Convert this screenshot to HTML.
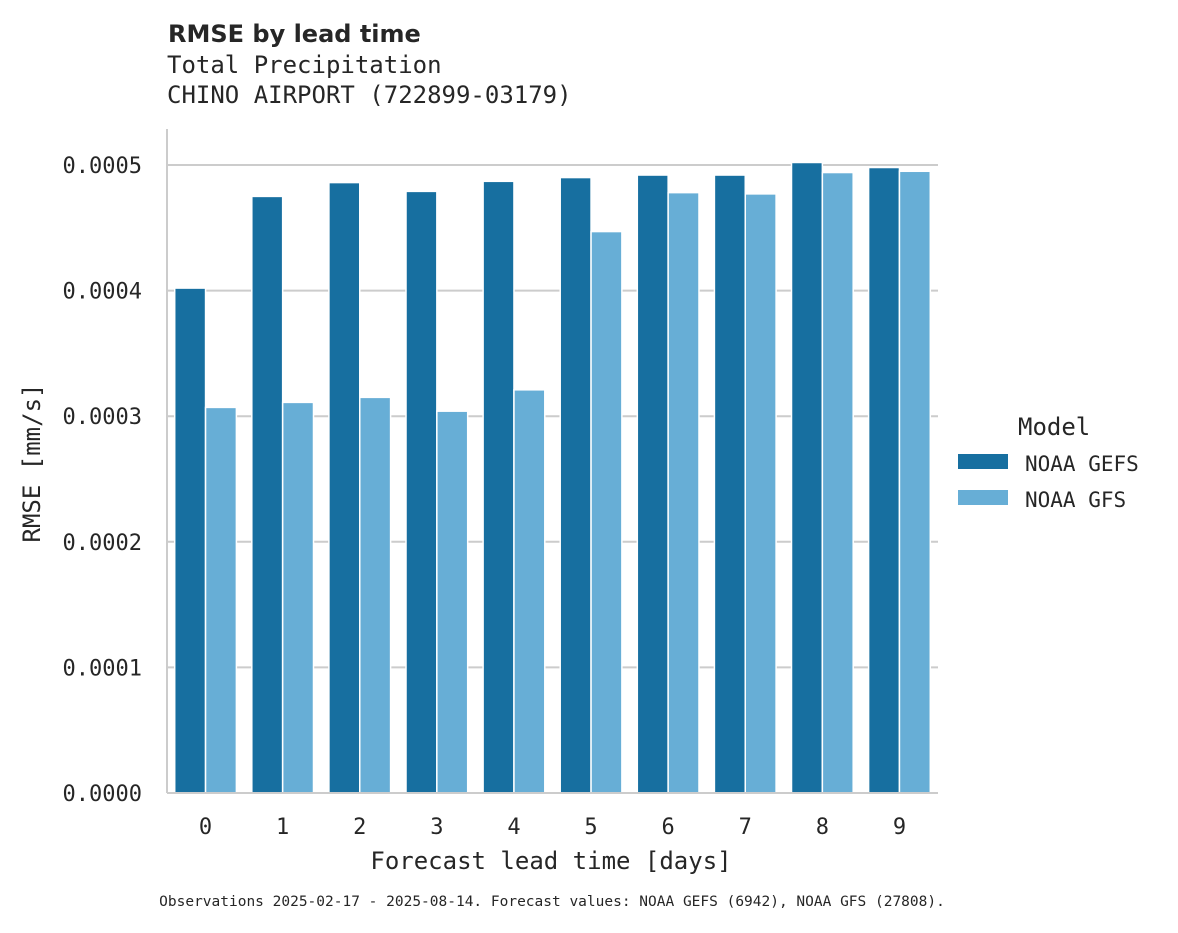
<!DOCTYPE html>
<html><head><meta charset="utf-8"><style>
body{margin:0;background:#fff;}
svg text{font-family:"DejaVu Sans Mono","Liberation Mono",monospace;fill:#262626;}
</style></head><body>
<svg width="1178" height="928" viewBox="0 0 1178 928">
<text x="168" y="42" style="font-family:'DejaVu Sans','Liberation Sans',sans-serif;font-weight:bold;font-size:24px">RMSE by lead time</text>
<text x="167" y="73" font-size="24">Total Precipitation</text>
<text x="167" y="103" font-size="24">CHINO AIRPORT (722899-03179)</text>
<g id="grid"></g>
<g id="bars"></g>
<line x1="167" y1="129" x2="167" y2="793" stroke="#ccc" stroke-width="2"/>
<line x1="167" y1="793" x2="938" y2="793" stroke="#ccc" stroke-width="2"/>
<g id="xt"></g>
<text x="551" y="869" font-size="24" text-anchor="middle">Forecast lead time [days]</text>
<text transform="translate(40,463) rotate(-90)" font-size="24" text-anchor="middle">RMSE [mm/s]</text>
<g>
<text x="1018" y="435" font-size="24">Model</text>
<rect x="958" y="454" width="50" height="15" fill="#176fa0"/>
<text x="1025" y="471" font-size="21">NOAA GEFS</text>
<rect x="958" y="490" width="50" height="15" fill="#67aed6"/>
<text x="1025" y="507" font-size="21">NOAA GFS</text>
</g>
<text x="552" y="906" font-size="14.5" text-anchor="middle">Observations 2025-02-17 - 2025-08-14. Forecast values: NOAA GEFS (6942), NOAA GFS (27808).</text>
</svg>
<script>
const categories=["0","1","2","3","4","5","6","7","8","9"];
const gefs=[0.000402,0.000475,0.000486,0.000479,0.000487,0.000490,0.000492,0.000492,0.000502,0.000498];
const gfs=[0.000307,0.000311,0.000315,0.000304,0.000321,0.000447,0.000478,0.000477,0.000494,0.000495];
const yTicks=[0,0.0001,0.0002,0.0003,0.0004,0.0005];
const yTickLabels=["0.0000","0.0001","0.0002","0.0003","0.0004","0.0005"];
const NS="http://www.w3.org/2000/svg";
const x0=167,x1=938,y0=793,yTop=165;
const y=v=>y0-(v/0.0005)*(y0-yTop);
const bw=(x1-x0)/categories.length;
const cx=i=>x0+bw*(i+0.5);
function mk(t,a,p){const e=document.createElementNS(NS,t);for(const k in a)e.setAttribute(k,a[k]);p.appendChild(e);return e;}
const grid=document.getElementById('grid'),bars=document.getElementById('bars'),xt=document.getElementById('xt');
yTicks.forEach((v,i)=>{
 if(v>0){const l=mk('line',{x1:x0,x2:x1,y1:y(v),y2:y(v),stroke:'#ccc','stroke-width':2},grid);
 
 }
 const t=mk('text',{x:142,y:y(v)+8,'font-size':22,'text-anchor':'end'},grid);
 t.textContent=yTickLabels[i];
 
 
});
const inner=bw*0.8,half=inner/2;
categories.forEach((c,i)=>{
 const a=mk('rect',{x:cx(i)-half,y:y(gefs[i]),width:half,height:y0-y(gefs[i]),fill:'#176fa0',stroke:'#fff','stroke-width':1.5},bars);
 
 
 const b=mk('rect',{x:cx(i),y:y(gfs[i]),width:half,height:y0-y(gfs[i]),fill:'#67aed6',stroke:'#fff','stroke-width':1.5},bars);
 
 
 const t=mk('text',{x:cx(i),y:834,'font-size':22,'text-anchor':'middle'},xt);
 t.textContent=c;
 
 
});
</script>
</body></html>
